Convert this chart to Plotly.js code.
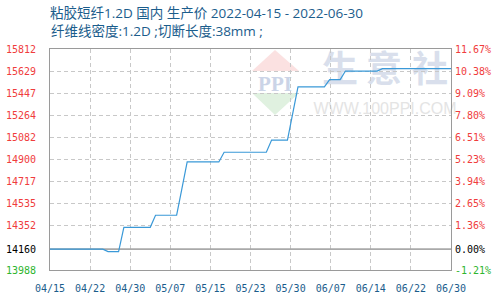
<!DOCTYPE html>
<html>
<head>
<meta charset="utf-8">
<script src="https://cdn.plot.ly/plotly-3.0.1.min.js"></script>
<style>html,body{margin:0;padding:0;background:#fff;}#chart{width:500px;height:300px;}</style>
</head>
<body>
<div id="chart"></div>
<script>
// ---- data ----
const dates = ['2022-04-15','2022-04-25','2022-04-26','2022-04-28','2022-04-29','2022-05-04','2022-05-05',
  '2022-05-09','2022-05-10','2022-05-11','2022-05-17','2022-05-18','2022-05-26','2022-05-27','2022-05-30',
  '2022-05-31','2022-06-01','2022-06-06','2022-06-07','2022-06-09','2022-06-10','2022-06-16','2022-06-17','2022-06-30'];
const price = [14160,14160,14140,14140,14340,14340,14440,
  14440,14660,14880,14880,14960,14960,15060,15060,
  15280,15500,15500,15560,15560,15630,15630,15650,15650];
const baseValue = 14160;
const leftTicks = [13988,14160,14352,14535,14717,14900,15082,15264,15447,15629,15812];
const pctLabels = ['-1.21%','0.00%','1.36%','2.65%','3.94%','5.23%','6.51%','7.80%','9.09%','10.38%','11.67%'];
const titleLine1 = '粘胶短纤1.2D 国内 生产价 2022-04-15 - 2022-06-30';
const titleLine2 = '纤维线密度:1.2D ;切断长度:38mm ;';

// ---- styling ----
const RED = '#f03c3c', GREEN = '#2eb52e', BLACK = '#000000', BLUE = '#1b5d8c';
const colorFor = (d) => d > 0.0001 ? RED : (d < -0.0001 ? GREEN : BLACK);
const toPct = v => (v / baseValue - 1) * 100;
const leftText = leftTicks.map(v => `<span style="color:${colorFor(v - baseValue)}">${v}</span>`);
const rightVals = leftTicks.map(toPct);
const rightText = rightVals.map((p, i) => `<span style="color:${colorFor(p)}">${pctLabels[i]}</span>`);
const yRange = [leftTicks[0], leftTicks[leftTicks.length - 1]];
const pctRange = yRange.map(toPct);

// plot area in px for decoration placement
const PL = 50, PR = 451, PT = 49, PB = 270;
const px = x => (x - PL) / (PR - PL);
const py = y => (PB - y) / (PB - PT);

const tickFont = {family: 'DejaVu Sans Mono, monospace', size: 10};
const titleFont = {family: 'Open Sans, Noto Sans CJK SC, sans-serif', size: 13.5, color: BLUE};

const traces = [
  {x: [dates[0], dates[dates.length - 1]], y: [baseValue, baseValue], type: 'scatter', mode: 'lines',
   line: {color: '#a9a9a9', width: 1.6}, hoverinfo: 'skip', showlegend: false},
  {x: dates, y: price, type: 'scatter', mode: 'lines',
   line: {color: '#3a99d8', width: 1.2}, showlegend: false},
  {x: dates, y: price.map(toPct), yaxis: 'y2', type: 'scatter', mode: 'lines',
   line: {color: 'rgba(0,0,0,0)', width: 0}, hoverinfo: 'skip', showlegend: false}
];

function wmLabel(cx, cy, w, h, text, font) {
  return {type: 'rect', xref: 'paper', yref: 'paper', layer: 'below',
    x0: px(cx - w / 2), x1: px(cx + w / 2), y0: py(cy + h / 2), y1: py(cy - h / 2),
    line: {width: 0}, fillcolor: 'rgba(0,0,0,0)',
    label: {text: text, font: font, textposition: 'middle center', padding: 0}};
}
const wmFont = {family: 'Noto Sans CJK SC', size: 36, color: '#d9dfec', weight: 'bold'};

const shapes = [
  {type: 'path', xref: 'paper', yref: 'paper', layer: 'below',
   path: `M ${px(275)} ${py(50)} L ${px(299)} ${py(71)} L ${px(252)} ${py(71)} Z`,
   fillcolor: '#fbe1e1', line: {width: 0}},
  {type: 'path', xref: 'paper', yref: 'paper', layer: 'below',
   path: `M ${px(252)} ${py(93)} L ${px(299)} ${py(93)} L ${px(275)} ${py(115)} Z`,
   fillcolor: '#e0f1e0', line: {width: 0}},
  wmLabel(275, 82, 50, 18, 'PPI', {family: 'Liberation Serif, serif', size: 21, color: '#cbd4e7', weight: 'bold'}),
  wmLabel(340, 72, 40, 38, '生', wmFont),
  wmLabel(384, 72, 40, 38, '意', wmFont),
  wmLabel(430, 72, 40, 38, '社', wmFont),
  wmLabel(385, 106, 130, 14, 'WWW.100PPI.COM', {family: 'Liberation Sans, Arial', size: 16, color: '#e4e4e4'})
];

const layout = {
  width: 500, height: 300,
  margin: {l: PL, r: 500 - PR, t: PT, b: 300 - PB, pad: 0},
  paper_bgcolor: '#ffffff', plot_bgcolor: '#ffffff',
  showlegend: false,
  title: {text: titleLine1, xref: 'paper', x: 0, xanchor: 'left', yref: 'container', y: 1 - 13 / 300, yanchor: 'middle',
    font: titleFont},
  annotations: [
    {text: titleLine2, xref: 'paper', yref: 'paper', x: 0, y: py(31), xanchor: 'left', yanchor: 'middle',
     showarrow: false, xshift: -1, font: titleFont}
  ],
  xaxis: {
    type: 'date', range: [dates[0], dates[dates.length - 1]],
    tick0: dates[0], dtick: 7.6 * 86400000, tickformat: '%m/%d',
    showgrid: true, gridcolor: '#c8c8c8', griddash: '4px,3px', gridwidth: 1,
    showline: true, mirror: true, linecolor: '#9a9a9a', linewidth: 1,
    zeroline: false, ticks: '', ticklabelstandoff: 9,
    tickfont: Object.assign({color: BLUE}, tickFont)
  },
  yaxis: {
    range: yRange, tickmode: 'array', tickvals: leftTicks, ticktext: leftText,
    showgrid: true, gridcolor: '#c8c8c8', griddash: '4px,3px', gridwidth: 1,
    showline: true, mirror: true, linecolor: '#9a9a9a', linewidth: 1,
    zeroline: false, ticks: '', ticklabelstandoff: 11,
    tickfont: tickFont
  },
  yaxis2: {
    overlaying: 'y', side: 'right', range: pctRange,
    tickmode: 'array', tickvals: rightVals, ticktext: rightText,
    showgrid: false, showline: false, zeroline: false, ticks: '', ticklabelstandoff: 3,
    tickfont: tickFont
  },
  shapes: shapes
};

Plotly.newPlot('chart', traces, layout, {staticPlot: true, displayModeBar: false});
</script>
</body>
</html>
